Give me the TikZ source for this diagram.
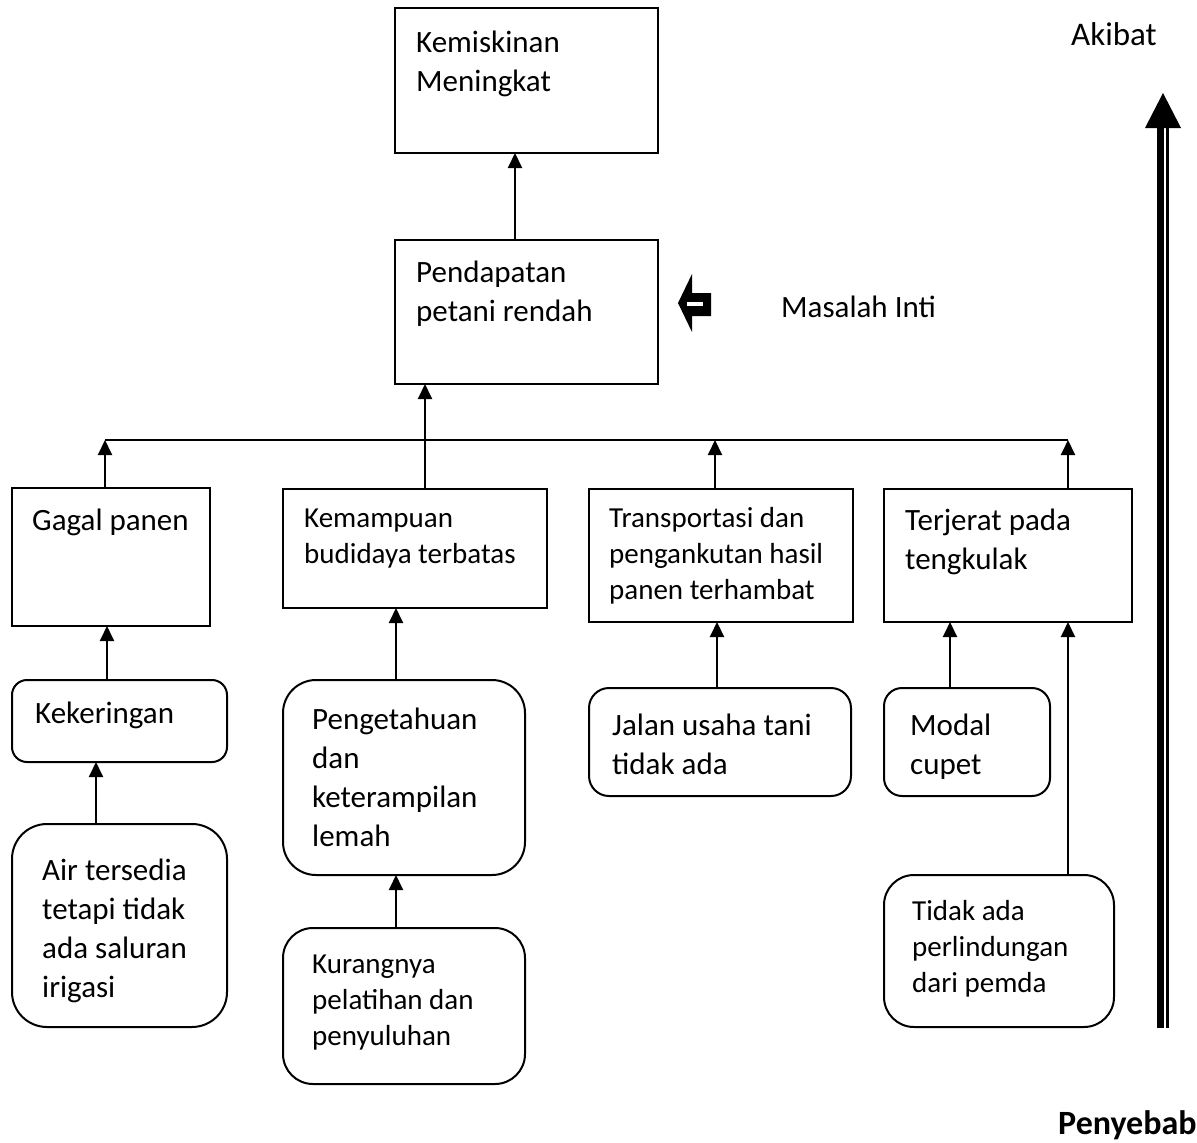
\documentclass[tikz,border=0pt]{standalone}
\usepackage{fontspec}
\setmainfont{Carlito}
\usetikzlibrary{arrows.meta}

\begin{document}
\begin{tikzpicture}[x=1pt,y=-1pt,
  box/.style={draw, line width=2pt, inner sep=0pt, outer sep=0pt, anchor=north west},
  rbox/.style={box, rounded corners=#1},
  big/.style={anchor=base west, inner sep=0pt, align=left, font=\fontsize{31}{39}\selectfont},
  small/.style={anchor=base west, inner sep=0pt, align=left, font=\fontsize{29}{36}\selectfont},
  link/.style={line width=2pt, -{Triangle[width=14pt,length=15pt]}},
  plain/.style={line width=2pt},
]
\useasboundingbox (0,0) rectangle (1197,1143);

% top: effect and core problem (text nodes sit on the baseline of their last line)
\node[box, minimum width=263, minimum height=145] (b1) at (395,8) {};
\node[big] (t1) at (416,91) {Kemiskinan\\Meningkat};
\node[box, minimum width=263, minimum height=144] (b2) at (395,240) {};
\node[big] (t2) at (416,321) {Pendapatan\\petani rendah};

% direct causes
\node[box, minimum width=198, minimum height=138] (gagal) at (12,488) {};
\node[big] (tg) at (32,530) {Gagal panen};
\node[box, minimum width=264, minimum height=119] (kem) at (283,489) {};
\node[small] (tk) at (304,563) {Kemampuan\\budidaya terbatas};
\node[box, minimum width=264, minimum height=133] (trans) at (589,489) {};
\node[small] (tt) at (609,599) {Transportasi dan\\pengankutan hasil\\panen terhambat};
\node[box, minimum width=248, minimum height=133] (terj) at (884,489) {};
\node[big] (tj) at (905,569) {Terjerat pada\\tengkulak};

% deeper causes
\node[rbox=15, minimum width=215, minimum height=82] (kek) at (12,680) {};
\node[big] (tkek) at (35,723) {Kekeringan};
\node[rbox=33, minimum width=242, minimum height=195] (peng) at (283,680) {};
\node[big] (tpeng) at (312,846) {Pengetahuan\\dan\\keterampilan\\lemah};
\node[rbox=20, minimum width=262, minimum height=108] (jalan) at (589,688) {};
\node[big] (tjalan) at (612,774) {Jalan usaha tani\\tidak ada};
\node[rbox=18, minimum width=166, minimum height=108] (modal) at (884,688) {};
\node[big] (tmodal) at (910,774) {Modal\\cupet};
\node[rbox=35, minimum width=215, minimum height=203] (air) at (12,824) {};
\node[big] (tair) at (42,997) {Air tersedia\\tetapi tidak\\ada saluran\\irigasi};
\node[rbox=30, minimum width=242, minimum height=156] (kur) at (283,928) {};
\node[small] (tkur) at (312,1045) {Kurangnya\\pelatihan dan\\penyuluhan};
\node[rbox=30, minimum width=230, minimum height=152] (tidak) at (884,875) {};
\node[small] (ttidak) at (912,992) {Tidak ada\\perlindungan\\dari pemda};

% side labels
\node[anchor=base west, inner sep=0pt, font=\fontsize{33}{39}\selectfont] (akibat) at (1071,45) {Akibat};
\node[big] (inti) at (781,317) {Masalah Inti};
\node[anchor=base west, inner sep=0pt, font=\fontsize{34}{39}\selectfont\bfseries] (sebab) at (1058,1134) {Penyebab};

% collecting line under the core problem
\coordinate (busL) at (105,440);
\coordinate (busR) at (1068,440);
\draw[plain] (busL) -- (busR);

% connectors
\draw[link] ([xshift=120]b2.north west) -- ([xshift=120]b1.south west);
\draw[link] ([xshift=142]kem.north west) -- ([xshift=30]b2.south west);
\draw[link] ([xshift=93]gagal.north west) -- (busL);
\draw[link] ([xshift=126]trans.north west) -- ([xshift=126]trans.north west |- busL);
\draw[link] ([xshift=184]terj.north west) -- (busR);
\draw[link] ([xshift=95]kek.north west) -- ([xshift=95]gagal.south west);
\draw[link] ([xshift=113]peng.north west) -- ([xshift=113]kem.south west);
\draw[link] ([xshift=128]jalan.north west) -- ([xshift=128]trans.south west);
\draw[link] ([xshift=66]modal.north west) -- ([xshift=66]terj.south west);
\draw[link] ([xshift=84]air.north west) -- ([xshift=84]kek.south west);
\draw[link] ([xshift=113]kur.north west) -- ([xshift=113]peng.south west);
\draw[link] ([xshift=184]tidak.north west) -- ([xshift=184]terj.south west);

% block arrow pointing at the core problem
\fill (678,303) -- (692,274) -- (692,293) -- (711,293) -- (711,316) -- (692,316) -- (692,332) -- cycle;
\fill[white] (687,301.5) rectangle (703,305.5);

% tall arrow from causes up to effects
\fill (1157,128) rectangle (1163.5,1028);
\fill (1166,128) rectangle (1168.7,1028);
\fill (1145,128) -- (1181,128) -- (1163,93) -- cycle;
\end{tikzpicture}
\end{document}
